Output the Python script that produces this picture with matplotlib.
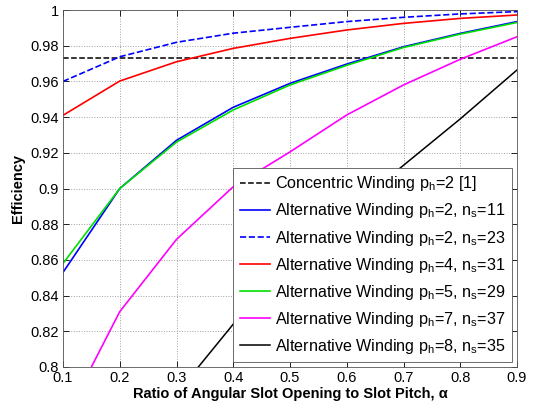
import matplotlib
matplotlib.use("Agg")
import matplotlib.pyplot as plt

plt.rcParams['font.family'] = ['Liberation Sans', 'DejaVu Sans']
plt.rcParams['mathtext.fontset'] = 'custom'
plt.rcParams['mathtext.rm'] = 'Liberation Sans'
plt.rcParams['mathtext.it'] = 'Liberation Sans:italic'
plt.rcParams['mathtext.bf'] = 'Liberation Sans:bold'

alpha = [0.1, 0.2, 0.3, 0.4, 0.5, 0.6, 0.7, 0.8, 0.9]

concentric_level = 0.973
eff_p2_n11 = [0.853, 0.900, 0.927, 0.9455, 0.9589, 0.9697, 0.9794, 0.9869, 0.9935]
eff_p2_n23 = [0.960, 0.9738, 0.9819, 0.9870, 0.9903, 0.9935, 0.9959, 0.9978, 0.9991]
eff_p4_n31 = [0.941, 0.9602, 0.9710, 0.9785, 0.9841, 0.9888, 0.9925, 0.9953, 0.9972]
eff_p5_n29 = [0.858, 0.900, 0.926, 0.944, 0.958, 0.969, 0.979, 0.9865, 0.993]
eff_p7_n37 = [0.769, 0.831, 0.8715, 0.901, 0.9205, 0.9412, 0.958, 0.9724, 0.985]
eff_p8_n35 = [0.70, 0.745, 0.785, 0.824, 0.857, 0.887, 0.913, 0.939, 0.9664]

labels = [
    r'Concentric Winding p$_\mathrm{h}$=2 [1]',
    r'Alternative Winding p$_\mathrm{h}$=2, n$_\mathrm{s}$=11',
    r'Alternative Winding p$_\mathrm{h}$=2, n$_\mathrm{s}$=23',
    r'Alternative Winding p$_\mathrm{h}$=4, n$_\mathrm{s}$=31',
    r'Alternative Winding p$_\mathrm{h}$=5, n$_\mathrm{s}$=29',
    r'Alternative Winding p$_\mathrm{h}$=7, n$_\mathrm{s}$=37',
    r'Alternative Winding p$_\mathrm{h}$=8, n$_\mathrm{s}$=35',
]

fig = plt.figure(figsize=(5.37, 4.09), dpi=100)
ax = fig.add_axes([63/537, 1 - 367/409, (517-63)/537, (367-10)/409])

ax.plot(alpha, [concentric_level]*len(alpha), '--', color='black', lw=1.1, label=labels[0])
ax.plot(alpha, eff_p2_n11, '-', color='#0000ff', lw=1.2, label=labels[1])
ax.plot(alpha, eff_p2_n23, '--', color='#0000ff', lw=1.2, label=labels[2])
ax.plot(alpha, eff_p4_n31, '-', color='#ff0000', lw=1.2, label=labels[3])
ax.plot(alpha, eff_p5_n29, '-', color='#00e000', lw=1.2, label=labels[4])
ax.plot(alpha, eff_p7_n37, '-', color='#ff00ff', lw=1.2, label=labels[5])
ax.plot(alpha, eff_p8_n35, '-', color='black', lw=1.1, label=labels[6])

ax.set_xlim(0.1, 0.9)
ax.set_ylim(0.8, 1.0)
ax.set_xticks([0.1, 0.2, 0.3, 0.4, 0.5, 0.6, 0.7, 0.8, 0.9])
ax.set_xticklabels(['0.1', '0.2', '0.3', '0.4', '0.5', '0.6', '0.7', '0.8', '0.9'])
ax.set_yticks([0.8, 0.82, 0.84, 0.86, 0.88, 0.9, 0.92, 0.94, 0.96, 0.98, 1.0])
ax.set_yticklabels(['0.8', '0.82', '0.84', '0.86', '0.88', '0.9', '0.92', '0.94', '0.96', '0.98', '1'])
ax.tick_params(direction='in', top=True, right=True, labelsize=10.5, length=4, width=0.6, pad=3)
ax.grid(True, linestyle=':', color='#a0a0a0', lw=0.7)
for s in ax.spines.values():
    s.set_linewidth(0.6)
    s.set_color('#555555')

ax.set_xlabel('Ratio of Angular Slot Opening to Slot Pitch, α', fontsize=10.5,
              fontweight='bold', labelpad=1)
ax.set_ylabel('Efficiency', fontsize=10.5, fontweight='bold', labelpad=4)

leg = ax.legend(loc='lower right', fontsize=11.6, handlelength=1.9, handletextpad=0.3,
                labelspacing=0.5, borderpad=0.4, fancybox=False, framealpha=1,
                edgecolor='#555555', borderaxespad=0.3)
leg.get_frame().set_linewidth(0.6)

fig.savefig('out.png', dpi=100)
